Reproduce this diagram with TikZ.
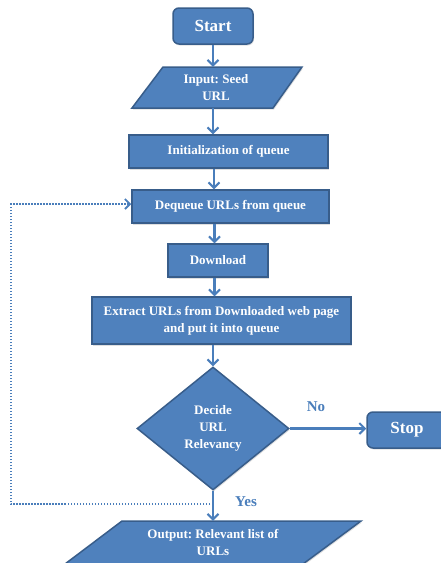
\documentclass[tikz,border=0pt]{standalone}
\usepackage{fontspec}
\setmainfont{Liberation Serif}
\frenchspacing
\usetikzlibrary{shapes.geometric,arrows.meta,shadows}
\definecolor{boxfill}{HTML}{4F81BD}
\definecolor{boxline}{HTML}{385D8A}
\definecolor{arrowc}{HTML}{4A7EBB}
\begin{document}
\begin{tikzpicture}[x=1pt,y=-1pt,
  box/.style={draw=boxline, line width=1.5pt, fill=boxfill, text=white,
    font=\fontsize{13}{17}\selectfont\bfseries, align=center, inner sep=0pt,
    drop shadow={shadow xshift=1pt, shadow yshift=-1.5pt, opacity=0.25}},
  term/.style={box, rounded corners=6pt, font=\fontsize{17}{20}\selectfont\bfseries},
  txt/.style={text=white, font=\fontsize{13}{17}\selectfont\bfseries, align=center, inner sep=0pt},
  flow/.style={draw=arrowc, line width=2.4pt, -{Straight Barb[length=5.5pt,width=11pt,line width=2pt]}},
  loopline/.style={draw=arrowc, line width=2.4pt, dash pattern=on 1.5pt off 1.5pt, -{Straight Barb[length=5pt,width=10pt,line width=1.8pt]}},
  lbl/.style={text=arrowc, font=\fontsize{15}{18}\selectfont\bfseries, inner sep=0pt}]
\useasboundingbox (0,0) rectangle (441,563);

% Start
\node[term, minimum width=80pt, minimum height=36pt] (st) at (213,26) {Start};

% Input parallelogram
\draw[box] (163,67) -- (302,67) -- (273,108) -- (132,108) -- cycle;
\node[txt, minimum height=41pt] (in) at (216,87.5) {Input: Seed\\URL};

% Boxes
\node[box, minimum width=199pt, minimum height=33pt] (init) at (228.5,151.5) {Initialization of queue};
\node[box, minimum width=197pt, minimum height=33pt] (deq) at (230.5,206.5) {Dequeue URLs from queue};
\node[box, minimum width=100pt, minimum height=33pt] (dl) at (218,260.5) {Download};
\node[box, minimum width=259pt, minimum height=47pt] (ex) at (221.5,320.5) {Extract URLs from Downloaded web page\\and put it into queue};

% Decision
\node[box, diamond, minimum width=152pt, minimum height=123pt, aspect=1.24] (dec) at (213,428.5) {Decide\\URL\\Relevancy};

% Stop
\node[term, minimum width=80pt, minimum height=36pt] (stop) at (407,430) {Stop};

% Output parallelogram
\draw[box] (122,521) -- (361,521) -- (303,564) -- (65,564) -- cycle;
\node[txt, minimum height=42pt] (out) at (213,542) {Output: Relevant list of\\URLs};

% Connectors
\draw[flow] (st.south) -- (st.south |- in.north);
\draw[flow] (st.south |- in.south) -- (st.south |- init.north);
\draw[flow] ([xshift=1pt]st.south |- init.south) -- ([xshift=1pt]st.south |- deq.north);
\draw[flow] ([xshift=1.5pt]st.south |- deq.south) -- ([xshift=1.5pt]st.south |- dl.north);
\draw[flow] ([xshift=1.5pt]st.south |- dl.south) -- ([xshift=1.5pt]st.south |- ex.north);
\draw[flow] (dec.north |- ex.south) -- (dec.north);
\draw[flow] (dec.east) -- (stop.west |- dec.east);
\draw[flow] (dec.south) -- (dec.south |- out.north);

% Loop back
\coordinate (lp) at (213,504);
\coordinate (lc) at (11,504);
\draw[loopline] (lp) -- (lc) |- ([yshift=2.5pt]deq.west);

% Labels
\node[lbl] (yes) at (246,502) {Yes};
\node[lbl] (no) at (316,407) {No};
\end{tikzpicture}
\end{document}
